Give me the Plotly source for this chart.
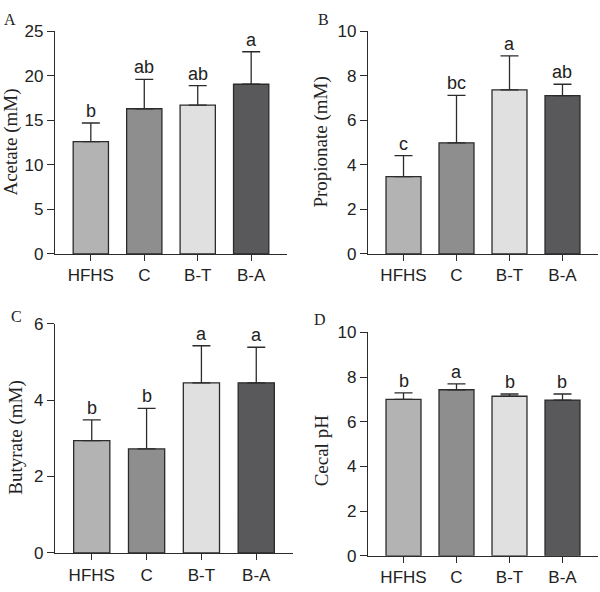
import plotly.graph_objects as go

groups = ["HFHS", "C", "B-T", "B-A"]
colors = ["#b3b3b3", "#8e8e8e", "#e0e0e0", "#59595b"]

acetate = [12.6, 16.3, 16.7, 19.05]
acetate_sd = [2.1, 3.3, 2.2, 3.65]
acetate_sig = ["b", "ab", "ab", "a"]

propionate = [3.47, 4.99, 7.37, 7.11]
propionate_sd = [0.94, 2.13, 1.52, 0.51]
propionate_sig = ["c", "bc", "a", "ab"]

butyrate = [2.94, 2.72, 4.45, 4.45]
butyrate_sd = [0.54, 1.06, 0.97, 0.93]
butyrate_sig = ["b", "b", "a", "a"]

ph = [7.0, 7.43, 7.14, 6.97]
ph_sd = [0.29, 0.26, 0.10, 0.27]
ph_sig = ["b", "a", "b", "b"]

W, H = 600, 592
SANS = "Liberation Sans, Arial, sans-serif"
SERIF = "Liberation Serif, Times New Roman, serif"
INK = "#2b2b2b"

panels = [
    dict(vals=acetate, sd=acetate_sd, sig=acetate_sig, title="Acetate (mM)", letter="A",
         ymax=25, dtick=5, px=(55, 287), py=(23, 253), tx=11, ty=138, lx=2, ly=0),
    dict(vals=propionate, sd=propionate_sd, sig=propionate_sig, title="Propionate (mM)", letter="B",
         ymax=10, dtick=2, px=(368, 598), py=(23, 253), tx=321, ty=138, lx=316, ly=0),
    dict(vals=butyrate, sd=butyrate_sd, sig=butyrate_sig, title="Butyrate (mM)", letter="C",
         ymax=6, dtick=2, px=(55, 293), py=(325, 562), tx=16, ty=443, lx=9, ly=307),
    dict(vals=ph, sd=ph_sd, sig=ph_sig, title="Cecal pH", letter="D",
         ymax=10, dtick=2, px=(368, 598), py=(334, 565), tx=321, ty=456, lx=312, ly=310),
]

fig = go.Figure()
annotations = []
layout = {}
for i, p in enumerate(panels, start=1):
    xa = "x" if i == 1 else f"x{i}"
    ya = "y" if i == 1 else f"y{i}"
    fig.add_trace(go.Bar(
        x=groups, y=p["vals"], xaxis=xa, yaxis=ya, width=0.66,
        marker=dict(color=colors, line=dict(color=INK, width=1.3)),
        error_y=dict(type="data", array=p["sd"], arrayminus=[0] * 4, symmetric=False,
                     color=INK, thickness=1.3, width=9),
        showlegend=False, hoverinfo="skip",
    ))
    for g, v, s, t in zip(groups, p["vals"], p["sd"], p["sig"]):
        annotations.append(dict(x=g, y=v + s, xref=xa, yref=ya, text=t, showarrow=False,
                                yanchor="bottom", yshift=0,
                                font=dict(family=SANS, size=18, color="#222")))
    annotations.append(dict(x=p["tx"] / W, y=1 - p["ty"] / H, xref="paper", yref="paper",
                            text=p["title"], textangle=-90, showarrow=False,
                            xanchor="center", yanchor="middle",
                            font=dict(family=SERIF, size=19, color="#222")))
    annotations.append(dict(x=p["lx"] / W, y=1 - p["ly"] / H, xref="paper", yref="paper",
                            text=p["letter"], showarrow=False, xanchor="left", yanchor="top",
                            font=dict(family=SERIF, size=16, color="#222")))
    xkey = "xaxis" if i == 1 else f"xaxis{i}"
    ykey = "yaxis" if i == 1 else f"yaxis{i}"
    layout[xkey] = dict(domain=[p["px"][0] / W, p["px"][1] / W], anchor=ya,
                        range=[-0.67, 3.67], type="category",
                        showline=True, linecolor=INK, linewidth=1.3,
                        ticks="outside", ticklen=6, tickwidth=1.3, tickcolor=INK,
                        showgrid=False, zeroline=False, fixedrange=True,
                        tickfont=dict(family=SANS, size=17, color="#222"))
    layout[ykey] = dict(domain=[1 - p["py"][1] / H, 1 - p["py"][0] / H], anchor=xa,
                        range=[0, p["ymax"]], dtick=p["dtick"], tick0=0,
                        showline=True, linecolor=INK, linewidth=1.3,
                        ticks="outside", ticklen=7, tickwidth=1.3, tickcolor=INK,
                        showgrid=False, zeroline=False, fixedrange=True,
                        tickfont=dict(family=SANS, size=17, color="#222"))

fig.update_layout(width=W, height=H, margin=dict(l=0, r=0, t=0, b=0),
                  paper_bgcolor="white", plot_bgcolor="white",
                  annotations=annotations, bargap=0.34, **layout)
fig.write_html("out.html")
